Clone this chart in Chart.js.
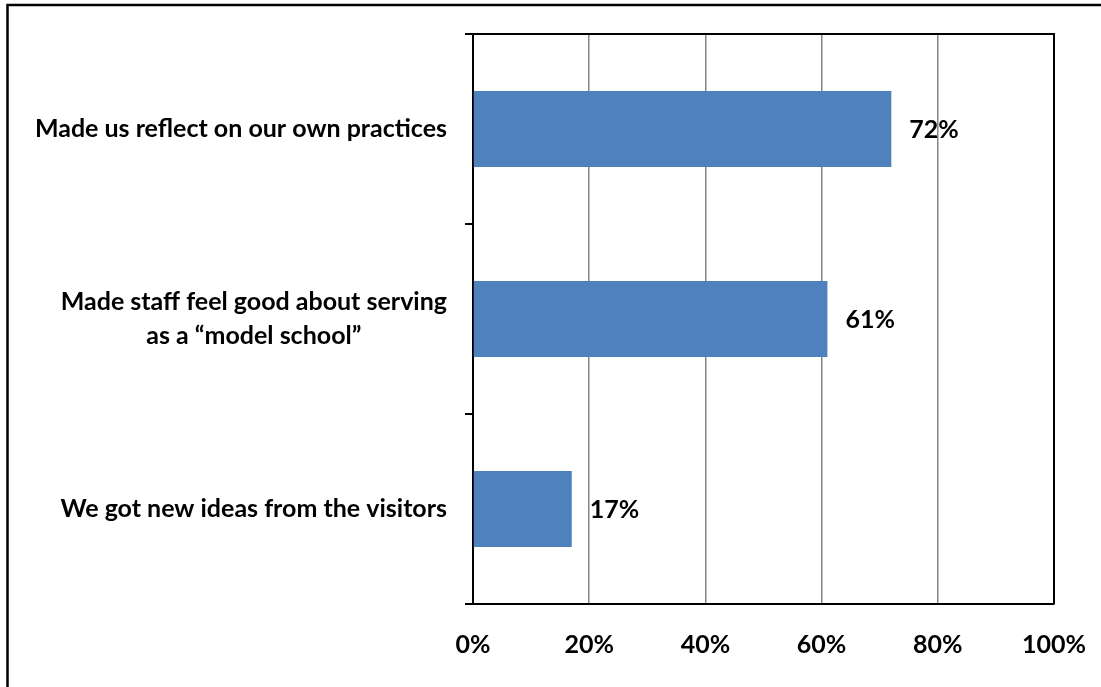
<!DOCTYPE html>
<html>
<head>
<meta charset="utf-8">
<script src="https://cdn.jsdelivr.net/npm/chart.js@4/dist/chart.umd.min.js"></script>
<style>
	html, body { margin: 0; padding: 0; background: #fff; overflow: hidden; }
	#chartBox { position: relative; width: 1101px; height: 687px; }
</style>
</head>
<body>
<div id="chartBox"><canvas id="impactChart" width="1101" height="687"></canvas></div>
<script>
// answers, one line per row of the axis
const categories = [
	["Made us reflect on our own practices"],
	["Made staff feel good about serving", "as a \u201cmodel school\u201d"],
	["We got new ideas from the visitors"]
];
const shares = [72, 61, 17];
const xMin = 0;
const xMax = 100;
const xStep = 20;

const barBlue = "#4f81bd";
const gridGrey = "#868686";
const labelFont = { family: "Lato", weight: "bold", size: 25 };

// white page with the thin black frame on the left and top
const pageFrame = {
	id: "pageFrame",
	beforeDraw(chart) {
		const ctx = chart.ctx;
		ctx.save();
		ctx.fillStyle = "#fff";
		ctx.fillRect(0, 0, chart.width, chart.height);
		ctx.strokeStyle = "#000";
		ctx.lineWidth = 2.5;
		ctx.beginPath();
		ctx.moveTo(7.5, chart.height);
		ctx.lineTo(7.5, 5);
		ctx.lineTo(chart.width, 5);
		ctx.stroke();
		ctx.restore();
	}
};

// top and right edges of the plot area
const plotFrame = {
	id: "plotFrame",
	afterDatasetsDraw(chart) {
		const a = chart.chartArea;
		const ctx = chart.ctx;
		ctx.save();
		ctx.strokeStyle = "#000";
		ctx.lineWidth = 2;
		ctx.beginPath();
		ctx.moveTo(a.left, a.top);
		ctx.lineTo(a.right, a.top);
		ctx.lineTo(a.right, a.bottom);
		ctx.stroke();
		ctx.restore();
	}
};

// category names: each block centred on itself, blocks right-aligned to the axis
const rowLabels = {
	id: "rowLabels",
	afterDraw(chart) {
		const ctx = chart.ctx;
		const yScale = chart.scales.y;
		const rightEdge = chart.chartArea.left - 26;
		const lineGap = 34;
		ctx.save();
		ctx.font = "bold " + labelFont.size + "px " + labelFont.family;
		ctx.fillStyle = "#000";
		ctx.textAlign = "center";
		ctx.textBaseline = "middle";
		chart.data.labels.forEach((lines, i) => {
			const yMid = yScale.getPixelForTick(i);
			let widest = 0;
			lines.forEach(l => { widest = Math.max(widest, ctx.measureText(l).width); });
			const cx = rightEdge - widest / 2;
			const y0 = yMid - (lines.length - 1) * lineGap / 2;
			lines.forEach((l, k) => ctx.fillText(l, cx, y0 + k * lineGap));
		});
		ctx.restore();
	}
};

// percentage written just past the end of each bar
const valueLabels = {
	id: "valueLabels",
	afterDatasetsDraw(chart) {
		const ctx = chart.ctx;
		const meta = chart.getDatasetMeta(0);
		ctx.save();
		ctx.font = "bold " + labelFont.size + "px " + labelFont.family;
		ctx.fillStyle = "#000";
		ctx.textAlign = "left";
		ctx.textBaseline = "middle";
		meta.data.forEach((bar, i) => {
			ctx.fillText(chart.data.datasets[0].data[i] + "%", bar.x + 18, bar.y + 1);
		});
		ctx.restore();
	}
};

new Chart(document.getElementById("impactChart"), {
	type: "bar",
	data: {
		labels: categories,
		datasets: [{
			data: shares,
			backgroundColor: barBlue,
			borderWidth: 0,
			categoryPercentage: 0.4,
			barPercentage: 1
		}]
	},
	options: {
		indexAxis: "y",
		responsive: false,
		animation: false,
		layout: { padding: { left: 465, top: 34, right: 47, bottom: 1 } },
		plugins: {
			legend: { display: false },
			tooltip: { enabled: false }
		},
		scales: {
			x: {
				min: xMin,
				max: xMax,
				// layout padding already leaves room for the end labels
				afterFit(scale) {
					scale.paddingLeft = 0;
					scale.paddingRight = 0;
				},
				ticks: {
					stepSize: xStep,
					padding: 26,
					color: "#000",
					font: labelFont,
					callback: v => v + "%"
				},
				grid: {
					color: gridGrey,
					lineWidth: 1.5,
					drawTicks: false
				},
				border: { display: true, color: "#000", width: 2 }
			},
			y: {
				ticks: { display: false },
				grid: {
					drawOnChartArea: false,
					drawTicks: true,
					tickLength: 8,
					color: "#000",
					lineWidth: 2
				},
				border: { display: true, color: "#000", width: 2 }
			}
		}
	},
	plugins: [pageFrame, plotFrame, rowLabels, valueLabels]
});
</script>
</body>
</html>
